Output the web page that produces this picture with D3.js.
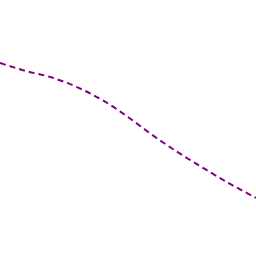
<!DOCTYPE html>
<html><head><meta charset="utf-8">
<script src="https://cdn.jsdelivr.net/npm/d3@7"></script>
<style>html,body{margin:0;padding:0;background:#fff;}</style>
</head><body>
<script>
const xs = [0,1,2,3,4,5,6,7,8,9,10];
const ys = [75.4,72.3,69.8,66.0,60.9,54.3,46.9,40.2,34.0,28.1,22.7];
const W=256,H=256;
const svg=d3.select("body").append("svg").attr("width",W).attr("height",H);
const x=d3.scaleLinear().domain([0,10]).range([0,W]);
const y=d3.scaleLinear().domain([0,100]).range([H,0]);
const line=d3.line().x((d,i)=>x(xs[i])).y(d=>y(d)).curve(d3.curveMonotoneX);
svg.append("path").datum(ys).attr("d",line).attr("fill","none")
  .attr("stroke","#800080").attr("stroke-width",2).attr("stroke-dasharray","6,4");
</script>
</body></html>
